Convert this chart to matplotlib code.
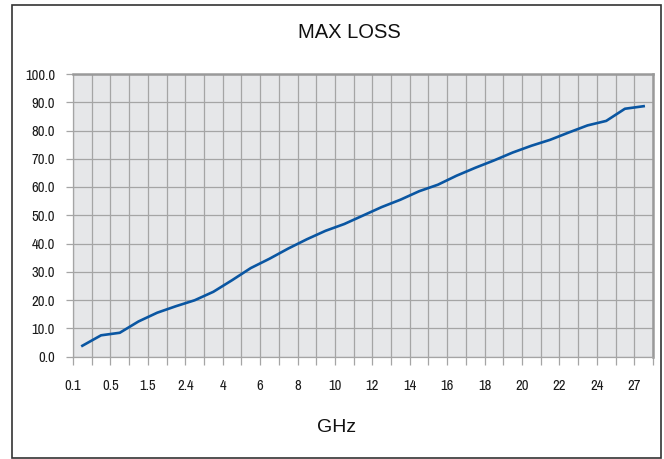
import numpy as np
import matplotlib
matplotlib.use("Agg")
import matplotlib.pyplot as plt
from matplotlib.patches import Rectangle

# x axis labels (shown on every other gridline)
freq_labels = ["0.1", "0.5", "1.5", "2.4", "4", "6", "8", "10", "12",
               "14", "16", "18", "20", "22", "24", "27"]

# max loss values, one per grid cell
max_loss = [3.8, 7.5, 8.4, 12.4, 15.5, 17.8, 19.9, 22.9, 27.0, 31.3,
            34.6, 38.2, 41.5, 44.5, 46.9, 49.9, 52.9, 55.5, 58.5, 60.8,
            64.0, 66.8, 69.4, 72.2, 74.6, 76.7, 79.3, 81.8, 83.4, 87.7,
            88.6]

y_ticks = np.arange(0, 101, 10)

narrow = ["Archivo Narrow", "Roboto Condensed", "Liberation Sans Narrow", "DejaVu Sans"]
grid_col = "#a5a5a5"

fig = plt.figure(figsize=(6.64, 4.59), dpi=100)
ax = fig.add_axes([73/664, 1 - 356.5/459, 580/664, 282.5/459])
ax.set_facecolor("#e6e7e9")

n = len(max_loss)
x = np.arange(n) + 0.5
ax.plot(x, max_loss, color="#0a56a2", lw=1.9, solid_joinstyle="round", zorder=3)

ax.set_xlim(0, n)
ax.set_ylim(0, 100)
ax.set_xticks(np.arange(0, n + 1))
ax.set_xticklabels([freq_labels[i // 2] if i % 2 == 0 and i // 2 < len(freq_labels) else ""
                    for i in range(n + 1)])
ax.set_yticks(y_ticks)
ax.set_yticklabels(["%.1f" % v for v in y_ticks])

ax.grid(True, color=grid_col, lw=0.9, zorder=1)
ax.set_axisbelow(True)
ax.tick_params(axis="x", length=6, width=0.9, color=grid_col, pad=10)
ax.tick_params(axis="y", length=5, width=0.9, color=grid_col, pad=8)
for lab in ax.get_xticklabels() + ax.get_yticklabels():
    lab.set_family(narrow)
    lab.set_fontsize(10.5)
    lab.set_fontweight("bold")
    lab.set_color("#1a1a1a")

for s in ["left", "bottom"]:
    ax.spines[s].set_color(grid_col)
    ax.spines[s].set_linewidth(0.9)
for s in ["top", "right"]:
    ax.spines[s].set_color("#9a9a9a")
    ax.spines[s].set_linewidth(1.8)

fig.text(349/664, 1 - 33/459, "MAX LOSS", ha="center", va="center",
         fontsize=14.5, family=["Liberation Sans", "DejaVu Sans"], color="#111111")
fig.text(337/664, 1 - 427/459, "GHz", ha="center", va="center",
         fontsize=14, family=["Liberation Sans", "DejaVu Sans"], color="#111111")

fig.patches.append(Rectangle((12/664, 1 - 458/459), 649/664, 453/459,
                             transform=fig.transFigure, fill=False,
                             edgecolor="#333333", lw=1.2))

fig.savefig("out.png", dpi=100)
